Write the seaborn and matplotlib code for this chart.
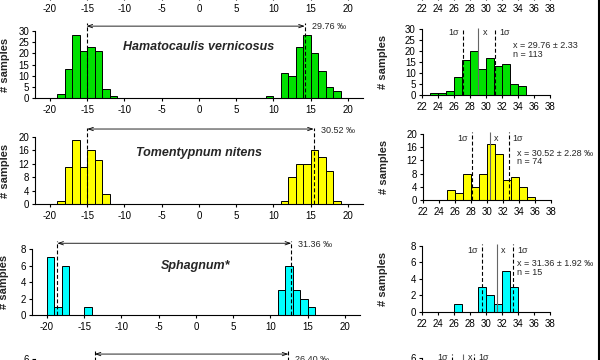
import matplotlib
matplotlib.use("Agg")
import matplotlib.pyplot as plt
from matplotlib.lines import Line2D
import seaborn as sns

# ── Data (1 ‰ bins: left edge + count) ──────────────────────────────────────
HV_BINS = [-19, -18, -17, -16, -15, -14, -13, -12, 9, 11, 12, 13, 14, 15, 16, 17, 18]
HV_COUNTS = [2, 13, 28, 21, 23, 21, 4, 1, 1, 11, 10, 23, 28, 20, 12, 5, 3]
TN_BINS = [-19, -18, -17, -16, -15, -14, -13, 11, 12, 13, 14, 15, 16, 17, 18]
TN_COUNTS = [1, 11, 19, 11, 16, 13, 3, 1, 8, 12, 12, 16, 14, 10, 1]
SP_BINS = [-20, -19, -18, -15, 11, 12, 13, 14, 15]
SP_COUNTS = [7, 1, 6, 1, 3, 6, 3, 2, 1]

HV_DIFF_BINS = [23, 24, 25, 26, 27, 28, 29, 30, 31, 32, 33, 34]
HV_DIFF_COUNTS = [1, 1, 2, 8, 16, 20, 12, 17, 13, 14, 5, 4]
TN_DIFF_BINS = [25, 26, 27, 28, 29, 30, 31, 32, 33, 34, 35]
TN_DIFF_COUNTS = [3, 2, 8, 4, 8, 17, 14, 6, 7, 4, 1]
SP_DIFF_BINS = [26, 29, 30, 31, 32, 33]
SP_DIFF_COUNTS = [1, 3, 2, 1, 5, 3]

# mode positions (dashed lines, left column)
HV_MODES = [-15.1, 14.2]
TN_MODES = [-15.0, 15.4]
SP_MODES = [-18.6, 12.8]
P4_MODES = [-14.0, 12.0]
SEPARATIONS = ["29.76 ‰", "30.52 ‰", "31.36 ‰", "26.40 ‰"]

# -1 sigma, mean, +1 sigma (right column)
HV_SIGMA = [27.2, 29.1, 31.15]
TN_SIGMA = [28.1, 30.4, 32.7]
SP_SIGMA = [29.6, 31.4, 33.4]
P4_SIGMA = [25.8, 27.2, 28.5]

SPECIES = ["Hamatocaulis vernicosus", "Tomentypnum nitens", "Sphagnum*"]
STATS = ["x = 29.76 ± 2.33", "x = 30.52 ± 2.28 ‰", "x = 31.36 ± 1.92 ‰"]
N_LABELS = ["n = 113", "n = 74", "n = 15"]
COLORS = ["#00e000", "#ffff00", "#00ffff"]

LEFT_TICKS = [-20, -15, -10, -5, 0, 5, 10, 15, 20]
RIGHT_TICKS = [22, 24, 26, 28, 30, 32, 34, 36, 38]

sns.set_style("ticks")
plt.rcParams["font.family"] = ["Liberation Sans", "DejaVu Sans"]
plt.rcParams["axes.unicode_minus"] = False
plt.rcParams.update({
    "axes.linewidth": 0.8, "axes.edgecolor": "black",
    "xtick.major.size": 2.3, "ytick.major.size": 2.3,
    "xtick.major.width": 0.8, "ytick.major.width": 0.8,
    "xtick.major.pad": 2.5, "ytick.major.pad": 2.0,
    "xtick.labelsize": 7, "ytick.labelsize": 7,
    "xtick.color": "black", "ytick.color": "black",
})

fig = plt.figure(figsize=(6, 3.6), dpi=100)


def style_axis(ax, xlim, xticks, ylim, ymax, ystep, label_x, cut=False):
    ax.set_xlim(*xlim)
    ax.set_xticks(xticks)
    ax.set_ylim(0, ylim)
    ax.set_yticks(list(range(0, ymax + 1, ystep)))
    ax.spines["left"].set_bounds(0, ymax)
    ax.spines["top"].set_visible(False)
    ax.spines["right"].set_visible(False)
    ax.set_xlabel("")
    if cut:
        # bottom row runs off the picture: only its top tick label shows
        ax.set_xticklabels([])
        ax.set_yticklabels([""] * (ymax // ystep) + [str(ymax)])
        ax.set_ylabel("")
    else:
        ax.set_ylabel("# samples", fontsize=8, fontweight="bold")
        ax.yaxis.set_label_coords(label_x, ymax / 2 / ylim)


# ── Top row, cut off: only its tick labels show ─────────────────────────────
for pos, xlim, ticks in [((0.0585, 1.0083, 0.5463, 0.2), (-22, 22), LEFT_TICKS),
                         ((0.7028, 1.0083, 0.2133, 0.2), (22, 38), RIGHT_TICKS)]:
    ax = fig.add_axes(pos)
    ax.set_xlim(*xlim)
    ax.set_xticks(ticks)
    ax.set_yticks([])
    for s in ["top", "right", "left"]:
        ax.spines[s].set_visible(False)

# ── Left column: both modes ─────────────────────────────────────────────────
left_rows = [
    # bins, counts, modes, pos, ylim, ymax, ystep, arrow_y, text_y, top_y, species_y, label_x
    (HV_BINS, HV_COUNTS, HV_MODES, (0.0585, 0.7278, 0.5463, 0.2108), 34, 30, 5, 32.2, 32.2, 33.6, 22.8, -0.077),
    (TN_BINS, TN_COUNTS, TN_MODES, (0.0585, 0.4333, 0.5463, 0.2139), 23, 20, 4, 22.4, 22.1, 22.8, 15.2, -0.077),
    (SP_BINS, SP_COUNTS, SP_MODES, (0.0533, 0.125, 0.5463, 0.2085), 9.1, 8, 2, 8.7, 8.5, 9.0, 5.94, -0.069),
    (None, None, P4_MODES, (0.0585, -0.1806, 0.5463, 0.2139), 7, 6, 2, 6.45, 6.0, 6.9, None, -0.077),
]
for i, (bins, counts, modes, pos, ylim, ymax, ystep, ay, ty, top, sy, lx) in enumerate(left_rows):
    ax = fig.add_axes(pos)
    if bins is not None:
        sns.histplot(x=[b + 0.5 for b in bins], weights=counts, binwidth=1, binrange=(-22, 22),
                     color=COLORS[i], edgecolor="black", linewidth=0.7, alpha=1, ax=ax)
        ax.text(0, sy, SPECIES[i], ha="center", va="center", fontsize=9,
                fontweight="bold", fontstyle="italic")
    style_axis(ax, (-22, 22), LEFT_TICKS, ylim, ymax, ystep, lx, cut=bins is None)
    ax.vlines(modes, 0, top, colors="black", linestyles=(0, (3.5, 2)), lw=0.8, clip_on=False)
    ax.annotate("", xy=(modes[1], ay), xytext=(modes[0], ay),
                arrowprops=dict(arrowstyle="<->,head_length=0.35,head_width=0.12",
                                lw=0.6, color="black", shrinkA=0, shrinkB=0))
    ax.annotate(SEPARATIONS[i], xy=(modes[1], ty), xytext=(5, 0), textcoords="offset points",
                ha="left", va="center", fontsize=6.5)

# ── Right column: differences ───────────────────────────────────────────────
right_rows = [
    (HV_DIFF_BINS, HV_DIFF_COUNTS, HV_SIGMA, (0.7028, 0.7361, 0.2133, 0.1894), 31, 30, 5, 30.3, 28.2, 33.4, (22.7, 18.2)),
    (TN_DIFF_BINS, TN_DIFF_COUNTS, TN_SIGMA, (0.705, 0.4444, 0.2133, 0.1925), 21, 20, 4, 20.7, 18.5, 33.7, (14.2, 11.6)),
    (SP_DIFF_BINS, SP_DIFF_COUNTS, SP_SIGMA, (0.7028, 0.1333, 0.2133, 0.195), 8.5, 8, 2, 8.25, 7.43, 33.9, (5.9, 4.76)),
    (None, None, P4_SIGMA, (0.7028, -0.1806, 0.2133, 0.2), 6.4, 6, 2, 6.3, 6.0, None, None),
]
for i, (bins, counts, sig, pos, ylim, ymax, ystep, top, ly, sx, sy) in enumerate(right_rows):
    ax = fig.add_axes(pos)
    if bins is not None:
        sns.histplot(x=[b + 0.5 for b in bins], weights=counts, binwidth=1, binrange=(22, 38),
                     color=COLORS[i], edgecolor="black", linewidth=0.7, alpha=1, ax=ax)
        ax.text(sx, sy[0], STATS[i], ha="left", va="center", fontsize=6.5)
        ax.text(sx, sy[1], N_LABELS[i], ha="left", va="center", fontsize=6.5)
    style_axis(ax, (22, 38), RIGHT_TICKS, ylim, ymax, ystep, -0.263, cut=bins is None)
    ax.vlines([sig[0], sig[2]], 0, top, colors="black", linestyles=(0, (3.5, 2)), lw=0.8, clip_on=False)
    ax.vlines(sig[1], 0, top, colors="#666666", lw=0.8, clip_on=False)
    ax.annotate("1σ", xy=(sig[0], ly), xytext=(-3, 0), textcoords="offset points",
                ha="right", va="center", fontsize=6.5)
    ax.annotate("x", xy=(sig[1], ly), xytext=(3, 0), textcoords="offset points",
                ha="left", va="center", fontsize=6.5)
    ax.annotate("1σ", xy=(sig[2], ly), xytext=(3, 0), textcoords="offset points",
                ha="left", va="center", fontsize=6.5)

# black frame edge on the right side
fig.add_artist(Line2D([0.9975, 0.9975], [0, 1], transform=fig.transFigure, color="black", lw=1.5))

fig.savefig("out.png", dpi=100)
